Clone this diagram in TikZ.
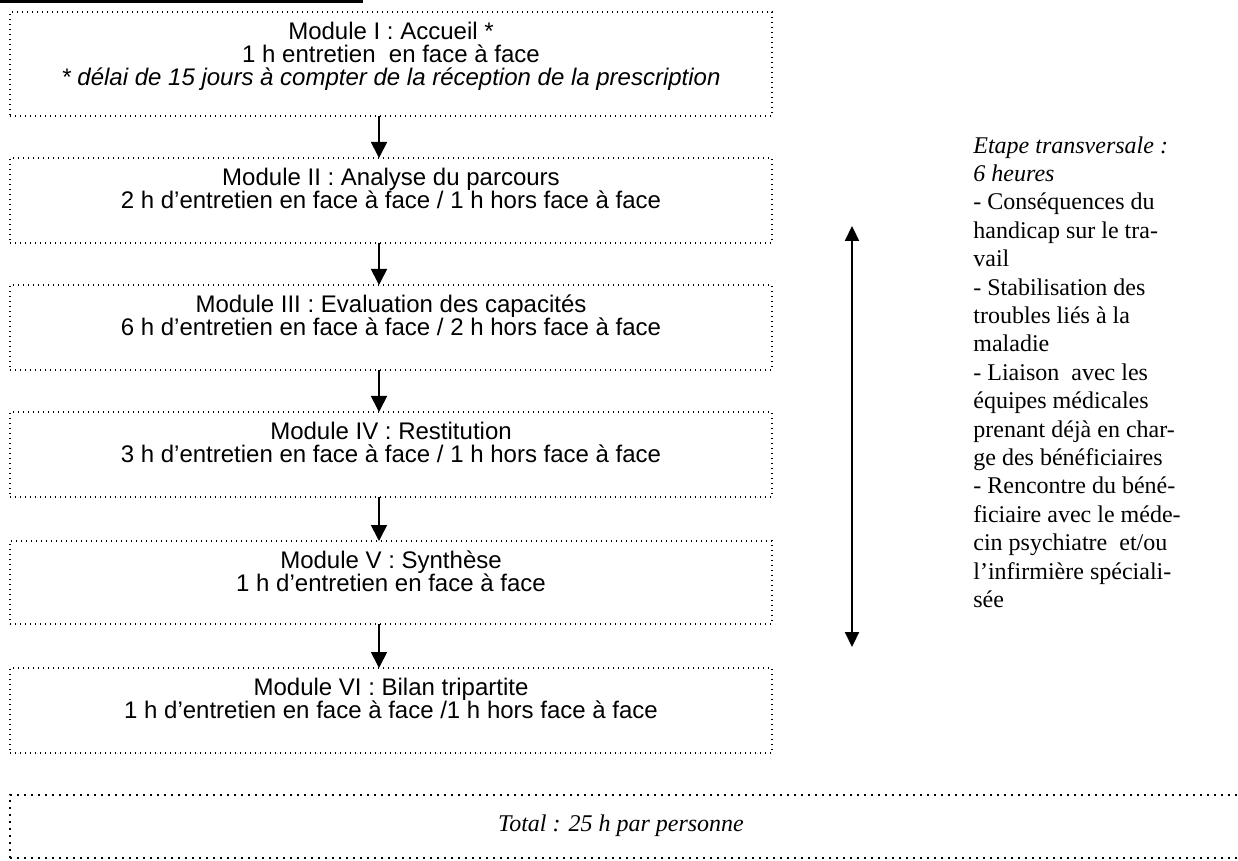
\documentclass[tikz,border=0pt]{standalone}
\usepackage{fontspec}
\setmainfont{Liberation Serif}
\newfontfamily\arialf{Liberation Sans}
\usetikzlibrary{arrows.meta}
\begin{document}
\begin{tikzpicture}[x=0.5pt,y=-0.5pt,
  modbox/.style={draw, line width=0.65pt, dash pattern=on 0.65pt off 1.85pt, inner sep=0pt, outer sep=0pt, anchor=north west, minimum width=381pt},
  totbox/.style={draw, line width=1pt, dash pattern=on 1pt off 2.5pt, inner sep=0pt, outer sep=0pt, anchor=north west},
  modtext/.style={font=\arialf\fontsize{12}{11.5}\selectfont, align=center, inner sep=0pt},
  sidetext/.style={font=\fontsize{12}{14.2}\selectfont, align=left, inner sep=0pt, anchor=north west},
  flow/.style={-{Triangle[width=8pt,length=8pt]}, line width=0.9pt},
  dflow/.style={{Triangle[width=7pt,length=7.5pt]}-{Triangle[width=7pt,length=7.5pt]}, line width=1.1pt}
]
\useasboundingbox (0,0) rectangle (1238,861);
\fill (0,0) rectangle (363,3);

\node[modbox, minimum height=52pt]   (b1) at (10,12)  {};
\node[modbox, minimum height=42.5pt] (b2) at (10,158) {};
\node[modbox, minimum height=42.5pt] (b3) at (10,285) {};
\node[modbox, minimum height=42.5pt] (b4) at (10,412) {};
\node[modbox, minimum height=41.5pt] (b5) at (10,541) {};
\node[modbox, minimum height=42.5pt] (b6) at (10,668) {};

\node[modtext] (t1) at (391,56) {Module I : Accueil *\\1 h entretien~ en face à face\\\textit{* délai de 15 jours à compter de la réception de la prescription}};
\node[modtext] (t2) at (391,188) {Module II : Analyse du parcours\\2 h d’entretien en face à face / 1 h hors face à face};
\node[modtext] (t3) at (391,315) {Module III : Evaluation des capacités\\6 h d’entretien en face à face / 2 h hors face à face};
\node[modtext] (t4) at (391,442) {Module IV : Restitution\\3 h d’entretien en face à face / 1 h hors face à face};
\node[modtext] (t5) at (391,571) {Module V : Synthèse\\1 h d’entretien en face à face};
\node[modtext] (t6) at (391,698) {Module VI : Bilan tripartite\\1 h d’entretien en face à face /1 h hors face à face};

\coordinate (ax) at (379,0);
\draw[flow] (b1.south -| ax) -- (b2.north -| ax);
\draw[flow] (b2.south -| ax) -- (b3.north -| ax);
\draw[flow] (b3.south -| ax) -- (b4.north -| ax);
\draw[flow] (b4.south -| ax) -- (b5.north -| ax);
\draw[flow] (b5.south -| ax) -- (b6.north -| ax);

\coordinate (dt) at (852,226);
\coordinate (db) at (852,647);
\draw[dflow] (dt) -- (db);

\node[sidetext] (side) at (973,136) {\textit{Etape transversale :}\\\textit{6 heures}\\- Conséquences du\\handicap sur le tra-\\vail\\- Stabilisation des\\troubles liés à la\\maladie\\- Liaison~ avec les\\équipes médicales\\prenant déjà en char-\\ge des bénéficiaires\\- Rencontre du béné-\\ficiaire avec le méde-\\cin psychiatre~ et/ou\\l’infirmière spéciali-\\sée};

\node[totbox, minimum width=620pt, minimum height=31.5pt] (tot) at (10,795) {};
\node[font=\itshape\fontsize{12}{14}\selectfont, inner sep=0pt] (tott) at (621,826) {Total : 25 h par personne};
\end{tikzpicture}
\end{document}
